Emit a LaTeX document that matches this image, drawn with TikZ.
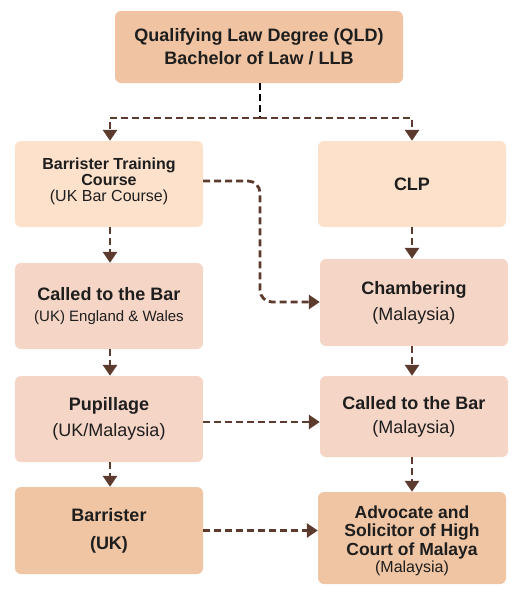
\documentclass[tikz,border=0pt]{standalone}
\usepackage{fontspec}
\setmainfont{Liberation Sans}
\usetikzlibrary{arrows.meta}
\definecolor{cTop}{HTML}{F0C4A2}
\definecolor{cLight}{HTML}{FDE1CB}
\definecolor{cMid}{HTML}{F5D5C5}
\definecolor{cDark}{HTML}{F0C5A3}
\definecolor{cArrow}{HTML}{5C3A2E}
\definecolor{cText}{HTML}{1E1E1E}
\tikzset{
  box/.style={rounded corners=6pt, draw=none, inner sep=0pt, align=center,
    minimum width=188pt, minimum height=86pt, text=cText},
  lbl/.style={text=cText, align=center, inner sep=0pt},
  conn/.style={draw=cArrow, line width=2.8pt, dash pattern=on 7pt off 4pt,
    -{Triangle[width=14pt,length=11pt]}},
  tf/.style={font=\bfseries\fontsize{18}{21}\selectfont},
}
\newcommand{\subtxt}[1]{{\mdseries\fontsize{18}{21}\selectfont #1}}
\begin{document}
\begin{tikzpicture}[x=1pt,y=-1pt]
\useasboundingbox (0,0) rectangle (520,598);
\node[box, fill=cTop, minimum width=288pt, minimum height=72pt, font=\bfseries\fontsize{18}{23}\selectfont] (top) at (259,47) {Qualifying Law Degree (QLD)\\Bachelor of Law / LLB};
\node[box, fill=cLight] (btc) at (109,184) {};
\node[lbl, font=\bfseries\fontsize{16}{16}\selectfont] (btct) at ([yshift=3pt]btc.center) {Barrister Training\\Course\\{\mdseries\fontsize{16}{16}\selectfont (UK Bar Course)}};
\node[box, fill=cLight, tf] (clp) at (412,184) {CLP};
\node[box, fill=cMid, font=\bfseries\fontsize{18}{21}\selectfont] (cbuk) at (109,306) {Called to the Bar\\{\mdseries\fontsize{15}{15}\selectfont (UK) England \& Wales}};
\node[box, fill=cMid, minimum height=87pt, font=\bfseries\fontsize{18}{26}\selectfont] (cham) at (414,302.5) {Chambering\\\subtxt{(Malaysia)}};
\node[box, fill=cMid, font=\bfseries\fontsize{18}{26}\selectfont] (pup) at (109,419) {Pupillage\\\subtxt{(UK/Malaysia)}};
\node[box, fill=cMid, minimum height=81pt, font=\bfseries\fontsize{18}{24}\selectfont] (cbm) at (414,416.5) {Called to the Bar\\\subtxt{(Malaysia)}};
\node[box, fill=cDark, minimum height=87pt, font=\bfseries\fontsize{18}{28}\selectfont] (bar) at (109,530.5) {Barrister\\(UK)};
\node[box, fill=cDark, minimum height=92pt] (adv) at (412,538) {};
\node[lbl, font=\bfseries\fontsize{17.5}{18.5}\selectfont] (advt) at ([yshift=-3pt]adv.center) {Advocate and\\Solicitor of High\\Court of Malaya\\[-1pt]{\mdseries\fontsize{16}{16}\selectfont (Malaysia)}};
% top split
\coordinate (split) at (260,118);
\draw[line width=2.8pt, dash pattern=on 7pt off 4pt, black] (top.south -| split) -- (split);
\draw[conn] (split) -| ([xshift=1pt]btc.north);
\draw[conn] (split) -| (clp.north);
% left column
\draw[conn] ([xshift=1pt]btc.south) -- ([xshift=1pt]cbuk.north);
\draw[conn] ([xshift=1pt]cbuk.south) -- ([xshift=1pt]pup.north);
\draw[conn] ([xshift=1pt]pup.south) -- ([xshift=1pt]bar.north);
% right column
\draw[conn] (clp.south) -- (clp.south |- cham.north);
\draw[conn] (clp.south |- cham.south) -- (clp.south |- cbm.north);
\draw[conn] (clp.south |- cbm.south) -- (adv.north);
% cross connectors
\coordinate (bend) at (260,302);
\draw[conn, rounded corners=12pt] ([yshift=3pt]btc.east) -| (bend) -- (bend -| cham.west);
\draw[conn] ([yshift=-3pt]pup.east) -- ([yshift=-3pt]pup.east -| cbm.west);
\draw[conn] (bar.east) -- (bar.east -| adv.west);
\end{tikzpicture}
\end{document}
